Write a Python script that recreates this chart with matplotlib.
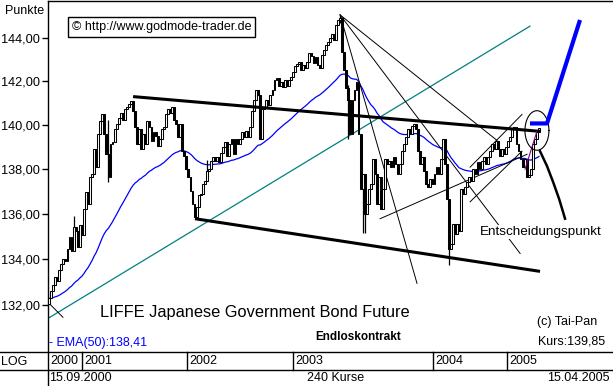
import numpy as np
import matplotlib
matplotlib.use('Agg')
import matplotlib.pyplot as plt
from matplotlib.lines import Line2D
import matplotlib.transforms as mtransforms

plt.rcParams['font.family'] = ['Liberation Sans', 'DejaVu Sans']

# ---------------- data (weekly closes, 15.09.2000 - 15.04.2005) ----------------
closes = [
    132.29, 132.59, 132.85, 133.20, 133.03, 133.50, 133.76, 134.02, 133.93, 134.45,
    134.98, 134.37, 135.42, 135.24, 134.54, 135.51, 135.07, 136.21, 136.96, 136.43,
    137.63, 137.76, 138.88, 138.07, 139.55, 140.14, 140.46, 139.55, 138.65, 137.63,
    139.10, 139.19, 139.78, 140.01, 140.32, 140.55, 140.23, 140.69, 140.78, 140.96,
    141.10, 140.60, 139.87, 139.10, 139.78, 138.88, 139.55, 139.10, 140.14, 139.87,
    139.24, 139.64, 139.46, 139.01, 139.33, 139.78, 139.87, 140.46, 140.69, 140.55,
    140.78, 140.23, 140.01, 139.42, 140.01, 138.79, 138.56, 137.98, 137.63, 137.00,
    136.43, 135.86, 136.30, 136.83, 136.87, 137.31, 137.45, 137.89, 137.98, 138.34,
    138.52, 138.34, 138.52, 138.30, 138.70, 138.97, 139.19, 138.56, 139.10, 139.33,
    138.65, 139.33, 139.10, 139.33, 139.64, 139.42, 139.69, 139.42, 139.87, 140.60,
    141.14, 141.60, 141.37, 139.33, 140.69, 140.78, 141.14, 140.91, 141.37, 141.60,
    142.06, 142.15, 141.79, 141.97, 141.74, 142.06, 141.79, 142.06, 142.20, 142.43,
    142.70, 142.80, 142.89, 142.52, 142.75, 142.61, 142.89, 143.30, 143.16, 142.84,
    143.12, 142.75, 142.61, 143.21, 143.44, 143.67, 143.81, 144.00, 144.19, 143.91,
    144.61, 144.85, 144.94, 143.35, 142.52, 141.69, 141.14, 139.55, 141.14, 141.60,
    141.97, 139.55, 137.09, 137.76, 135.99, 136.43, 137.09, 137.31, 138.43, 137.76,
    136.43, 137.63, 136.21, 137.09, 138.43, 138.21, 138.34, 138.07, 138.52, 138.21,
    137.76, 138.21, 138.79, 139.10, 139.42, 139.78, 139.55, 139.92, 140.01, 139.78,
    138.79, 138.21, 138.52, 137.89, 137.31, 137.18, 137.54, 137.31, 137.76, 138.07,
    137.76, 138.43, 139.33, 138.21, 136.65, 134.45, 134.67, 135.55, 135.11, 135.55,
    135.24, 137.09, 136.87, 137.18, 137.40, 137.63, 137.45, 137.98, 137.76, 138.30,
    137.98, 138.34, 138.52, 138.21, 138.52, 138.79, 139.10, 138.88, 139.24, 138.88,
    138.56, 138.88, 138.65, 138.97, 139.24, 139.42, 139.78, 139.87, 139.10, 138.79,
    138.43, 138.07, 138.43, 137.63, 137.72, 137.98, 139.10, 139.33, 139.64, 139.85,
]
first_open = 132.05

# visible wicks
wick_idx = [12, 29, 77, 142, 146, 153, 154, 195]
wick_high = [135.90, 140.20, 138.40, 145.09, 141.80, 137.30, 136.40, 134.60]
wick_low = [135.20, 137.40, 137.60, 144.70, 139.33, 135.15, 135.15, 133.72]

ema_span = 50

y_ticks = [132, 134, 136, 138, 140, 142, 144]
y_tick_labels = ['132,00', '134,00', '136,00', '138,00', '140,00', '142,00', '144,00']

year_labels = ['2000', '2001', '2002', '2003', '2004', '2005']
year_starts = [-0.5, 16.0, 67.3, 119.0, 187.3, 223.4]

# drawn analysis lines (bar index, price)
teal_x, teal_y = [-0.5, 234.6], [131.43, 144.56]
upper_x, upper_y = [41.0, 239.5], [141.28, 139.69]
lower_x, lower_y = [71.2, 239.5], [135.77, 133.46]
fan_origin = (142.0, 145.09)
fan_end_x = [179.5, 229.8, 218.5]
fan_end_y = [132.94, 134.24, 139.28]
support_x, support_y = [161.5, 233.2], [135.77, 138.65]
wedge_up_x, wedge_up_y = [205.4, 230.7], [138.07, 140.46]
wedge_lo_x, wedge_lo_y = [205.4, 230.7], [136.52, 138.79]
small_x, small_y = [0.0, 6.8], [132.08, 131.48]
purple_x, purple_y = [232.2, 238.0], [137.98, 139.69]
breakout_x, breakout_y = [234.6, 242.9, 259.0], [140.05, 140.05, 144.85]
curve_x = [239.5, 242.9, 245.9, 248.8, 250.7, 251.7]
curve_y = [138.79, 138.12, 137.40, 136.65, 136.08, 135.77]
circle_c = (238.0, 139.73)
circle_w = 11.7
circle_top, circle_bot = 140.64, 138.84

# ---------------- figure ----------------
W, H = 613, 386
fig = plt.figure(figsize=(W / 100, H / 100), dpi=100)
fig.patch.set_facecolor('white')


def fx(px):
    return px / W


def fy(py):
    return 1 - py / H


ax = fig.add_axes([fx(48), fy(352), (W - 48) / W, (352 - 1) / H])
ax.set_yscale('log')
ax.set_xlim(-0.49, 275.1)
ax.set_ylim(130.0, 145.75)

n = len(closes)
idx = np.arange(n)
opens = [first_open] + closes[:-1]
lo = np.minimum(opens, closes)
hi = np.maximum(opens, closes)
fills = ['white' if c >= o else 'black' for o, c in zip(opens, closes)]

# EMA(50)
alpha = 2 / (ema_span + 1)
ema = [closes[0]]
for c in closes[1:]:
    ema.append(ema[-1] + alpha * (c - ema[-1]))

# lines under candles
ax.plot(teal_x, teal_y, color='#008080', lw=0.9, zorder=2)
ax.plot(idx, ema, color='#0000ff', lw=0.9, zorder=2)

for ex, ey in zip(fan_end_x, fan_end_y):
    ax.plot([fan_origin[0], ex], [fan_origin[1], ey], color='black', lw=0.7, zorder=2)
for xs, ys in [(support_x, support_y), (wedge_up_x, wedge_up_y),
               (wedge_lo_x, wedge_lo_y), (small_x, small_y)]:
    ax.plot(xs, ys, color='black', lw=0.7, zorder=2)

# candles
ax.vlines(wick_idx, wick_low, wick_high, color='black', lw=0.9, zorder=3)
ax.bar(idx, hi - lo, bottom=lo, width=0.9, color=fills, edgecolor='black',
       linewidth=0.75, zorder=4)

# thick channel lines
ax.plot(upper_x, upper_y, color='black', lw=2.2, zorder=5, solid_capstyle='butt')
ax.plot(lower_x, lower_y, color='black', lw=2.2, zorder=5, solid_capstyle='butt')

# decision point markup
ax.plot(purple_x, purple_y, color='#800080', lw=0.8, zorder=6)
t = np.linspace(0, 2 * np.pi, 200)
lc = np.log(circle_c[1])
lh = (np.log(circle_top) - np.log(circle_bot)) / 2
ax.plot(circle_c[0] + circle_w / 2 * np.cos(t), np.exp(lc + lh * np.sin(t)),
        color='black', lw=0.8, zorder=6)
ax.plot(breakout_x, breakout_y, color='#0000ff', lw=3.0, zorder=6,
        solid_capstyle='butt')
ax.plot(curve_x, curve_y, color='black', lw=1.8, zorder=6)

# axes styling
for s in ['right', 'bottom']:
    ax.spines[s].set_visible(False)
ax.spines['left'].set_linewidth(1.0)
ax.spines['top'].set_linewidth(1.0)
ax.set_yticks(y_ticks)
ax.set_yticklabels(y_tick_labels)
ax.yaxis.set_minor_locator(matplotlib.ticker.NullLocator())
ax.yaxis.set_minor_formatter(matplotlib.ticker.NullFormatter())
ax.tick_params(axis='y', direction='out', length=4, width=1, labelsize=9.2,
               pad=2, colors='black')
ax.set_xticks([])

# bottom band
fig.add_artist(Line2D([0, 1], [fy(352), fy(352)], color='black', lw=1.0,
                      transform=fig.transFigure))
fig.add_artist(Line2D([0, 1], [fy(370), fy(370)], color='black', lw=1.0,
                      transform=fig.transFigure))
fig.add_artist(Line2D([fx(48), fx(48)], [0, fy(352)], color='black', lw=1.0,
                      transform=fig.transFigure))
blend = mtransforms.blended_transform_factory(ax.transData, fig.transFigure)
for lab, xs in zip(year_labels, year_starts):
    if xs > 0:
        fig.add_artist(Line2D([xs, xs], [fy(370), fy(352)], color='black', lw=1.0,
                              transform=blend))
    ax.annotate(lab, xy=(xs, fy(361)), xycoords=blend, xytext=(2, 0),
                textcoords='offset points', ha='left', va='center', fontsize=9,
                annotation_clip=False)

fig.text(fx(1), fy(362), 'LOG', fontsize=9, ha='left', va='center')
fig.text(fx(49), fy(378), '15.09.2000', fontsize=9, ha='left', va='center')
fig.text(fx(336), fy(378), '240 Kurse', fontsize=9, ha='center', va='center')
fig.text(fx(610), fy(378), '15.04.2005', fontsize=9, ha='right', va='center')

# annotations
fig.text(fx(5), fy(11), 'Punkte', fontsize=9, ha='left', va='center')
fig.text(fx(72), fy(27), '\u00a9 http://www.godmode-trader.de', fontsize=9,
         ha='left', va='center',
         bbox=dict(boxstyle='square,pad=0.3', facecolor='white', edgecolor='black',
                   linewidth=1.0))
fig.text(fx(100), fy(313), 'LIFFE Japanese Government Bond Future', fontsize=11.8,
         ha='left', va='center')
fig.text(fx(358), fy(337), 'Endloskontrakt', fontsize=8.5, fontweight='bold',
         ha='center', va='center')
fig.text(fx(537), fy(322), '(c) Tai-Pan', fontsize=9, ha='left', va='center')
fig.text(fx(538), fy(342), 'Kurs:139,85', fontsize=9, ha='left', va='center')
fig.text(fx(49), fy(343), '- EMA(50):138,41', fontsize=9, color='#0000ff',
         ha='left', va='center')
fig.text(fx(480), fy(232), 'Entscheidungspunkt', fontsize=9.7, ha='left',
         va='center', zorder=10,
         bbox=dict(boxstyle='square,pad=0.1', facecolor='white', edgecolor='none'))

fig.savefig('out.png', dpi=100, facecolor='white')
